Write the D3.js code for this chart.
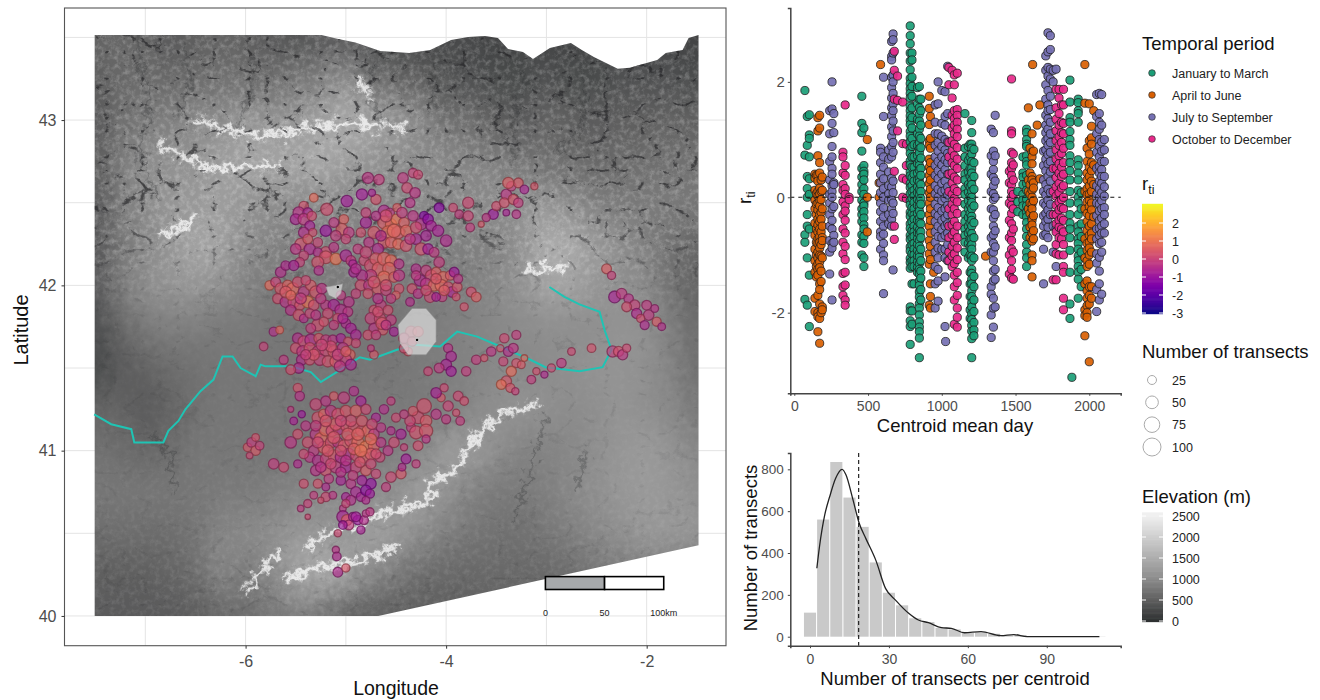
<!DOCTYPE html>
<html lang="en">
<head>
<meta charset="UTF-8">
<title>Transect centroids, residuals and elevation</title>
<style>
  html, body { margin: 0; background: #fff; }
  svg { display: block; font-family: "Liberation Sans", Arial, sans-serif; }
  .tick text { fill: #4d4d4d; }
  .legend-title { font-size: 18.5px; fill: #111; }
  .legend-label { font-size: 12.5px; fill: #222; }
  .axis-title { fill: #111; }
</style>
</head>
<body>
<script src="https://d3js.org/d3.v7.min.js"></script>
<script>
// ---- map data ----
const gridLons = d3.range(-7.5, -1.49, 0.25);
const gridLats = [43.5, 43.25, 43, 42.75, 42.5, 42.25, 42, 41.75, 41.5, 41.25, 41, 40.75, 40.5, 40.25, 40];
const elevation = [
  [550,600,550,450,500,550,500,450,400,450,450,350,300,250,250,250,200,200,200,200,200,200,200,200,200],
  [500,600,650,600,650,700,700,650,750,850,1000,700,600,500,400,350,300,300,350,300,300,350,350,350,300],
  [450,650,800,850,950,1000,1150,1100,1150,1300,1400,1300,1100,950,700,650,500,450,550,500,450,500,500,550,500],
  [500,800,1000,1050,1100,1250,1350,1350,1350,1400,1250,1100,1050,950,950,900,850,750,700,650,600,650,650,700,700],
  [450,800,1000,1150,1200,1250,1150,1050,1000,1000,950,950,950,950,950,950,1000,1050,1100,1000,850,800,800,800,750],
  [450,750,950,1150,1350,1300,1000,900,850,850,850,850,850,850,850,850,900,1100,1450,1400,1200,1000,850,700,600],
  [450,800,1000,1100,1150,1050,900,800,800,800,800,800,800,800,800,850,950,1100,1350,1300,1150,1050,950,700,550],
  [350,600,800,850,850,800,800,750,750,750,750,750,750,800,850,900,950,1000,1050,1050,1050,1100,1050,850,650],
  [300,450,550,650,700,750,750,750,750,750,750,750,750,800,850,900,950,950,1000,1050,1100,1100,1050,900,700],
  [550,550,450,550,700,750,750,750,750,750,750,800,800,800,850,950,1050,1100,1050,1000,1050,1100,1050,950,800],
  [700,650,600,650,750,750,750,750,800,800,800,800,850,950,1200,1200,1050,900,900,950,1050,1150,1200,1100,950],
  [750,750,750,750,750,800,800,850,900,950,950,1000,1050,1250,1100,900,800,800,850,950,1050,1150,1200,1150,1050],
  [650,650,650,650,750,900,950,1000,1150,1150,1150,1250,1200,1000,850,750,700,700,750,850,950,1050,1150,1150,1100],
  [500,500,500,550,650,900,800,950,1300,1400,1250,950,800,650,600,600,600,600,600,650,750,800,800,800,800],
  [450,450,450,450,500,600,650,750,850,750,600,500,500,500,500,500,500,500,500,500,500,500,500,500,500]
];
const footprint = [[-7.505,43.515],[-5.244,43.515],[-5.075,43.49],[-4.905,43.47],[-4.657,43.418],[-4.368,43.406],
  [-4.159,43.424],[-3.95,43.485],[-3.781,43.503],[-3.612,43.509],[-3.483,43.497],[-3.383,43.43],[-3.234,43.412],
  [-3.134,43.37],[-2.965,43.436],[-2.756,43.467],[-2.647,43.424],[-2.527,43.382],[-2.289,43.31],[-2.169,43.316],
  [-1.895,43.364],[-1.81,43.406],[-1.642,43.424],[-1.582,43.497],[-1.483,43.515],[-1.483,40.427],[-4.677,40],[-7.505,40]];
const ridges = [
  [[-6.0,40.145],[-5.7,40.37]],
  [[-5.58,40.23],[-5.29,40.29],[-4.91,40.33],[-4.53,40.4]],
  [[-5.37,40.43],[-5.08,40.53],[-4.57,40.63],[-4.155,40.69],[-4.155,40.81],[-3.9,40.89],[-3.69,41.09],[-3.44,41.23],[-3.11,41.27]],
  [[-6.85,42.3],[-6.5,42.4]],
  [[-3.2,42.08],[-2.8,42.12]],
  [[-4.9,43.24],[-4.75,43.14]],
  [[-6.5,43.0],[-5.9,42.9],[-5.4,42.95],[-4.9,42.98],[-4.4,42.95]],
  [[-6.85,42.85],[-6.4,42.72],[-5.7,42.72]]
];
const valleys = [
  [[-7.1,43.5],[-6.95,43.1],[-7.05,42.75],[-6.85,42.5]],
  [[-6.6,43.45],[-6.55,43.2],[-6.7,43.0]],
  [[-5.9,43.45],[-5.95,43.15],[-6.1,42.95]],
  [[-4.7,43.35],[-4.78,43.15],[-4.6,42.95]],
  [[-4.1,43.35],[-4.15,43.05]],
  [[-3.2,43.3],[-3.35,43.0],[-3.3,42.75]],
  [[-2.6,43.25],[-2.65,42.95],[-2.9,42.8]],
  [[-6.9,41.1],[-6.75,40.95],[-6.7,40.75]],
  [[-3.0,41.2],[-3.2,40.8],[-3.3,40.6]],
  [[-2.6,41.0],[-2.7,40.75]]
];
const river = [[-7.51,41.22],[-7.34,41.16],[-7.14,41.13],[-7.11,41.05],[-6.95,41.05],[-6.82,41.05],[-6.77,41.12],[-6.67,41.18],
  [-6.6,41.25],[-6.45,41.36],[-6.32,41.43],[-6.23,41.57],[-6.13,41.57],[-6.05,41.5],[-5.9,41.45],[-5.85,41.52],[-5.8,41.51],
  [-5.55,41.51],[-5.35,41.475],[-5.25,41.415],[-5.08,41.48],[-4.86,41.565],[-4.76,41.55],[-4.49,41.61],[-4.31,41.64],[-4.06,41.63],
  [-3.89,41.72],[-3.69,41.69],[-3.46,41.63],[-3.16,41.55],[-3.01,41.505],[-2.67,41.48],[-2.44,41.505],[-2.35,41.61],[-2.42,41.73],
  [-2.47,41.84],[-2.67,41.885],[-2.82,41.93],[-2.97,41.99]];
const bigBuffer = [[-4.34,41.86],[-4.2,41.86],[-4.1,41.79],[-4.1,41.66],[-4.2,41.58],[-4.38,41.58],[-4.46,41.65],[-4.48,41.76]];
const smallBuffer = [[-5.2,41.99],[-5.1,42.0],[-5.03,42.01],[-5.05,41.95],[-5.1,41.92],[-5.17,41.94]];
const bufferCentres = [[-4.29,41.67],[-5.08,41.99]];

// lon, lat, number of transects, residual
const centroids = [
  [-4.78,42.65,34,-.4],[-4.67,42.64,30,-.2],[-4.43,42.65,30,-.3],[-4.33,42.68,24,-.1],[-4.28,42.67,22,.1],[-4.84,42.55,34,-1.0],[-4.70,42.52,28,.3],[-4.74,42.56,14,-.9],
  [-4.39,42.59,30,.1],[-4.31,42.56,30,-.4],[-4.62,42.45,36,-.7],[-4.56,42.44,22,-.3],[-4.49,42.47,18,.6],[-4.36,42.50,26,-.5],[-4.22,42.42,22,-1.6],[-4.07,42.47,26,-1.5],
  [-3.93,42.47,20,.1],[-3.78,42.50,34,.1],[-3.87,42.43,20,-.2],[-3.78,42.42,28,.0],[-3.53,42.43,28,-1.1],[-3.6,42.41,18,-.4],[-3.65,42.37,10,.4],[-3.76,42.35,20,-.2],
  [-5.32,42.53,20,.9],[-4.99,42.51,36,-1.0],[-5.19,42.46,40,.2],[-5.42,42.48,24,.3],[-5.47,42.44,36,-.5],[-5.38,42.44,26,-.8],[-5.5,42.40,32,-.8],[-5.42,42.40,36,-.3],
  [-5.34,42.42,24,.2],[-5.36,42.36,26,-.9],[-5.42,42.32,30,-.6],[-5.33,42.32,18,.2],[-5.2,42.33,34,-1.2],[-5.02,42.40,24,.7],[-5.04,42.34,36,.6],[-5.12,42.38,26,-.3],
  [-4.97,42.32,30,-.3],[-5.0,42.28,24,.0],[-5.45,42.25,36,.3],[-5.5,42.22,30,-.4],[-5.36,42.22,34,-.7],[-5.42,42.18,24,.0],[-5.46,42.14,24,-.1],[-5.2,42.2,34,.2],
  [-5.28,42.2,22,-.6],[-5.2,42.17,44,.4],[-5.1,42.16,36,1.1],[-5.12,42.23,26,-.4],[-5.28,42.14,38,.3],[-5.27,42.09,24,-.6],[-5.0,42.18,36,-.8],[-4.95,42.15,26,-.2],
  [-4.8,42.38,34,-.9],[-4.85,42.32,24,.2],[-4.72,42.32,40,.4],[-4.62,42.38,44,.5],[-4.55,42.37,34,.9],[-4.5,42.40,28,1.1],[-4.58,42.32,46,1.0],[-4.48,42.32,44,.4],
  [-4.42,42.38,30,.6],[-4.4,42.33,36,.8],[-4.33,42.42,30,-.4],[-4.25,42.37,36,-.6],[-4.18,42.4,30,-1.4],[-4.15,42.36,30,-.9],[-4.08,42.33,34,-.9],[-4.0,42.27,36,-.7],
  [-4.62,42.26,36,.5],[-4.55,42.26,34,.6],[-4.48,42.25,30,.9],[-4.4,42.24,36,.3],[-4.3,42.28,32,-.8],[-4.25,42.22,40,.3],[-4.18,42.22,30,-1.0],[-4.12,42.2,26,-.3],
  [-4.68,42.22,34,-.7],[-4.77,42.26,28,-.4],[-4.88,42.22,26,-.2],[-4.82,42.15,26,.1],[-4.75,42.12,44,.2],[-4.7,42.16,40,.5],[-4.67,42.1,50,.6],[-4.62,42.16,46,.7],
  [-4.55,42.15,36,.9],[-4.57,42.1,44,.7],[-4.62,42.05,40,.9],[-4.52,42.05,30,.6],[-4.75,42.06,36,-.2],[-4.84,42.06,34,-.6],[-4.92,42.08,28,-.9],[-4.93,42.13,18,-.9],
  [-4.85,42.0,34,.2],[-4.77,42.0,30,-.4],[-4.68,41.98,34,.5],[-4.6,41.97,30,-.1],[-4.78,41.95,26,.3],[-4.9,41.95,24,-.1],[-4.97,41.9,30,-.5],[-5.05,41.94,24,-.3],
  [-4.47,42.13,26,-.5],[-4.47,42.06,34,-.4],[-4.47,41.98,24,.3],[-4.5,41.94,18,.6],[-4.07,42.14,30,-.2],
  [-4.3,42.1,26,-.6],[-4.2,42.09,30,-.2],[-4.15,42.06,34,.2],[-4.1,42.08,26,.6],[-4.03,42.05,34,.8],[-3.96,42.06,24,.5],[-3.92,42.08,26,-1.1],[-4.26,42.03,36,-.7],
  [-4.2,42.01,34,-.4],[-4.12,42.0,36,.9],[-4.05,42.0,40,.8],[-3.98,41.99,28,.3],[-4.34,41.98,26,.2],[-4.28,41.95,24,-.5],[-4.16,41.93,34,.1],[-4.04,41.93,24,-.2],
  [-3.94,41.96,30,-.8],[-3.89,41.99,26,.4],[-3.9,41.93,16,.3],[-3.75,41.96,26,.2],[-3.7,41.93,26,.6],[-3.82,41.87,18,.3],[-4.36,41.9,20,-.6],[-4.1,41.93,20,-.9],
  [-5.76,42.0,24,.9],[-5.7,42.02,26,-.1],[-5.65,41.98,36,.4],[-5.58,42.0,30,.7],[-5.53,41.98,40,.8],[-5.48,42.02,30,.2],[-5.42,41.96,32,-.3],[-5.35,42.0,30,.5],
  [-5.3,41.96,40,.4],[-5.24,41.98,30,-.4],[-5.65,42.08,30,-.6],[-5.6,42.12,24,-.7],[-5.52,42.12,28,-.9],[-5.68,41.92,28,.2],[-5.6,41.9,34,-.5],[-5.52,41.9,36,.1],
  [-5.46,41.88,28,.3],[-5.38,41.9,38,1.1],[-5.32,41.88,30,.2],[-5.55,41.85,30,-.5],[-5.47,41.82,34,.3],[-5.42,41.8,20,-.6],[-5.36,41.83,24,.0],[-5.2,41.88,28,-.4],
  [-5.12,41.88,36,-.9],[-5.05,41.85,38,-.6],[-4.98,41.84,26,-.4],[-5.18,41.83,30,.1],[-5.08,41.8,28,.2],[-5.0,41.77,24,-.7],[-5.28,41.76,40,.2],[-5.35,41.74,26,-.2],
  [-5.72,41.72,22,-.6],[-5.66,41.73,16,.8],[-5.03,41.8,28,-.8],[-4.95,41.74,30,-.9],[-4.9,41.7,30,-.8],
  [-4.72,41.85,26,.2],[-4.65,41.88,30,-.2],[-4.75,41.8,36,-.1],[-4.66,41.8,34,.1],[-4.58,41.85,26,.2],[-4.55,41.79,30,-.2],[-4.72,41.74,28,-.4],[-4.63,41.73,26,.4],
  [-4.52,41.72,22,-.9],[-4.78,41.7,26,.2],[-4.64,41.77,40,.4],[-4.35,41.72,34,.3],[-4.42,41.68,30,.1],[-4.34,41.66,24,.2],[-4.38,41.6,20,.4],[-4.42,41.62,24,.2],[-4.28,41.72,30,.4],
  [-5.48,41.68,30,-.6],[-5.42,41.66,36,.1],[-5.35,41.67,38,-.6],[-5.27,41.68,26,.4],[-5.2,41.67,28,-.2],[-5.13,41.67,26,-.4],[-5.05,41.68,24,-.9],[-4.98,41.66,20,.3],
  [-4.9,41.65,22,.1],[-5.5,41.62,30,.2],[-5.43,41.6,38,-.3],[-5.36,41.62,34,.3],[-5.28,41.6,34,-.2],[-5.2,41.61,40,.1],[-5.12,41.6,38,.4],[-5.03,41.62,34,-.4],[-4.96,41.58,30,.7],
  [-5.44,41.55,30,-.6],[-5.36,41.55,30,.2],[-5.26,41.55,36,-.1],[-5.18,41.54,34,.3],[-5.1,41.54,38,.5],[-5.0,41.55,36,-.1],[-4.95,41.52,32,-.8],[-5.06,41.51,34,-.4],
  [-5.82,41.63,20,-.1],[-5.62,41.55,22,-.3],[-5.47,41.5,30,-.7],[-5.55,41.49,26,.2],[-4.72,41.58,20,.4],[-4.75,41.62,12,-.2],
  [-3.98,41.62,22,-.5],[-3.95,41.57,30,-.8],[-4.0,41.52,32,-.9],[-3.95,41.48,28,-1.0],[-4.07,41.5,26,-.3],[-4.18,41.48,20,.0],[-3.8,41.48,24,-.2],[-3.7,41.55,24,-.2],
  [-3.62,41.56,14,.3],[-3.55,41.6,24,-.4],[-3.46,41.62,14,.3],[-3.43,41.54,22,.0],[-3.38,41.6,26,-.6],[-3.33,41.62,26,-.4],[-3.42,41.68,24,.1],[-3.3,41.7,22,-.2],
  [-3.3,41.53,22,.3],[-3.35,41.48,28,.9],[-3.25,41.52,16,.5],[-3.22,41.56,12,.8],[-3.15,41.43,20,-.2],[-3.1,41.48,14,.2],[-3.02,41.46,14,-.7],[-2.95,41.5,18,.1],
  [-3.4,41.42,30,.4],[-3.45,41.4,26,1.0],[-3.36,41.38,22,.4],[-3.31,41.36,14,-.1],[-2.85,41.53,24,-.3],[-2.75,41.6,16,.1],[-2.55,41.62,20,.3],
  [-3.5,42.48,22,.2],[-3.4,42.55,30,-.4],[-3.42,42.5,26,.3],[-3.33,42.52,28,.4],[-3.28,42.5,24,-.2],[-3.35,42.6,24,-.2],[-3.28,42.62,26,.5],[-3.38,42.62,34,.6],
  [-3.22,42.58,20,-.8],[-3.12,42.6,14,.4],[-3.3,42.43,20,-.5],[-3.4,42.44,12,-.9],
  [-2.4,42.1,26,.6],[-2.35,42.06,18,-.1],[-2.32,41.93,38,-.9],[-2.25,41.95,30,-.3],[-2.18,41.92,24,-.5],[-2.12,41.88,30,-.1],[-2.2,41.87,26,.2],[-2.1,41.83,28,-.7],
  [-2.0,41.88,26,-.3],[-1.98,41.82,30,-.3],[-2.06,41.8,18,.2],[-1.92,41.86,16,-.5],[-2.02,41.76,22,-.7],[-1.9,41.78,22,.5],[-1.85,41.75,16,-.6],[-2.34,41.6,34,-.2],
  [-2.28,41.6,28,.3],[-2.24,41.58,28,-.4],[-2.2,41.62,18,.1],
  // south block
  [-5.98,41.02,20,.4],[-5.94,41.05,24,-.2],[-5.9,41.0,24,.5],[-5.86,41.03,20,-.1],[-5.9,41.08,16,.3],[-5.96,40.97,12,.1],[-5.72,40.92,30,-.2],[-5.62,40.9,26,.1],
  [-5.55,41.05,36,-.4],[-5.48,41.1,26,.2],[-5.4,41.15,26,-.4],[-5.52,41.18,16,-.9],[-5.44,41.22,14,-1.1],[-5.55,41.25,10,-.3],[-5.48,41.38,22,.3],[-5.46,41.33,24,-.5],
  [-5.3,41.28,36,.0],[-5.2,41.3,28,-.4],[-5.12,41.33,20,.5],[-5.02,41.32,36,-.2],[-4.92,41.36,24,-.6],[-4.85,41.3,28,-.9],[-5.28,41.2,36,.3],[-5.22,41.22,30,.7],
  [-5.15,41.24,34,-.3],[-5.08,41.22,38,.3],[-5.0,41.24,34,.4],[-4.9,41.24,36,.6],[-4.8,41.25,28,.1],[-4.7,41.2,22,-.8],[-4.62,41.25,24,-.6],[-4.55,41.3,18,-.2],
  [-5.38,41.05,32,.2],[-5.3,41.1,34,-.4],[-5.25,41.07,44,.9],[-5.2,41.13,50,.8],[-5.14,41.12,36,.1],[-5.07,41.13,34,-.5],[-5.0,41.15,32,.5],[-4.92,41.14,36,.4],
  [-4.85,41.12,30,.3],[-4.78,41.12,38,.8],[-4.72,41.1,30,-.3],[-4.65,41.14,24,-.4],[-5.32,41.0,30,-.3],[-5.22,41.02,38,.6],[-5.15,41.05,34,.2],[-5.08,41.05,30,-.4],
  [-5.02,41.03,36,.6],[-4.95,41.06,40,.3],[-4.88,41.05,40,.9],[-4.8,41.02,44,1.2],[-4.72,41.03,34,.7],[-4.65,41.05,26,-.4],[-5.36,40.96,28,-.4],[-5.28,40.94,32,-.6],
  [-5.2,40.95,32,-.1],[-5.12,40.97,36,.4],[-5.05,40.96,34,-.7],[-4.97,40.98,34,-.6],[-4.9,40.97,30,.2],[-4.82,40.96,36,.7],[-4.75,40.98,38,.5],[-4.66,40.96,26,.0],
  [-4.58,41.0,26,-.4],[-4.52,41.05,30,.1],[-4.45,41.1,28,-.9],[-4.35,41.14,22,-.3],[-4.28,41.2,40,.2],[-4.22,41.27,58,.3],[-4.2,41.18,36,.5],[-4.33,41.24,24,.4],
  [-4.36,41.18,30,.1],[-4.3,41.11,46,.3],[-4.2,41.12,48,.4],[-4.42,41.02,14,-.1],[-4.28,41.03,26,.2],[-4.2,41.07,18,-.4],[-4.4,40.95,26,-1.0],[-4.3,40.92,18,-.2],
  [-4.1,41.22,28,-.4],[-4.0,41.19,22,-.3],[-3.98,41.27,28,.0],[-4.05,41.32,18,.4],[-4.1,41.35,30,-.9],[-4.02,41.38,18,.1],[-3.88,41.33,26,.1],[-3.82,41.3,20,.2],
  [-3.86,41.18,20,-.2],[-3.9,41.23,14,.2],[-4.45,40.86,28,.4],[-4.44,40.9,16,-.7],[-5.3,40.88,30,-.5],[-5.2,40.88,32,.3],[-5.1,40.9,36,-.2],[-5.0,40.9,34,-.9],
  [-4.9,40.9,34,-.1],[-4.8,40.88,30,.5],[-4.7,40.86,24,.0],[-4.55,40.84,30,.1],[-4.6,40.78,22,-.2],[-4.75,40.8,30,-1.3],[-4.84,40.82,26,-1.0],[-4.95,40.8,26,-.5],
  [-5.05,40.82,24,-.9],[-5.17,40.83,24,-.3],[-5.28,40.8,22,.3],[-5.42,40.8,22,.2],[-5.2,40.78,16,-.7],[-5.0,40.72,20,-.9],[-4.9,40.75,30,-.8],[-4.95,40.7,26,-.6],
  [-4.85,40.72,22,-.9],[-4.8,40.76,30,-1.4],[-4.76,40.74,22,-1.1],[-4.8,40.7,16,-.7],[-5.2,40.72,24,.1],[-5.13,40.73,16,-.4],[-5.32,40.73,16,-.2],[-5.25,40.7,10,.2],
  [-5.38,40.68,18,-.1],[-5.45,40.65,12,-.3],[-5.38,40.6,8,.1],[-5.03,40.65,12,-.4],[-5.0,40.68,18,.0],
  // sierra outliers
  [-5.03,40.6,40,-.9],[-4.99,40.58,32,.6],[-4.97,40.55,26,-.3],[-5.03,40.55,20,-1.1],[-4.93,40.6,20,-.9],[-4.88,40.58,24,-1.2],[-4.82,40.58,22,-.6],[-4.8,40.62,14,-.5],
  [-4.76,40.63,18,-.4],[-4.85,40.52,18,-.9],[-5.08,40.5,14,.1],[-4.9,40.6,26,-1.0],
  [-5.1,40.4,14,-.5],[-5.09,40.36,20,-.7],[-5.08,40.265,26,-.7],[-5.0,40.29,18,.4],
  // second pass over the dense parts
  [-4.6,42.42,40,.3],[-4.52,42.33,50,.8],[-4.44,42.44,30,-.2],[-4.3,42.35,34,.2],[-4.65,42.3,30,-.6],[-4.2,42.3,30,-.9],[-4.36,42.28,30,-.3],[-4.8,42.44,26,-.1],
  [-4.7,42.42,24,-.5],[-5.1,42.3,30,-.2],[-5.28,42.26,24,.0],[-5.38,42.28,26,.5],[-4.9,42.1,30,-.6],[-4.8,42.2,36,.0],[-4.72,42.02,38,.4],[-4.6,42.0,34,.2],
  [-4.55,41.92,24,-.2],[-4.68,41.92,28,-.5],[-5.6,41.96,36,.5],[-5.45,41.92,34,-.2],[-5.4,42.03,24,.1],[-5.55,41.94,26,.8],[-5.25,41.92,28,-.3],[-5.12,41.76,24,-.2],
  [-5.22,41.78,24,.3],[-5.3,41.82,26,-.4],[-5.15,41.63,34,.2],[-5.24,41.64,36,.0],[-5.32,41.58,34,.4],[-5.4,41.58,28,-.1],[-5.08,41.58,34,-.2],[-5.0,41.6,28,.6],
  [-4.68,41.84,30,.2],[-4.6,41.76,26,-.4],[-4.7,41.7,24,-.1],[-4.1,42.04,30,.4],[-4.2,41.97,30,.2],[-4.3,42.06,24,-.3],[-4.02,41.97,30,.6],[-3.88,42.04,22,-.4],
  [-5.1,41.16,40,.6],[-5.2,41.18,36,.3],[-5.3,41.15,30,-.2],[-4.98,41.1,40,.5],[-4.88,41.1,42,.7],[-4.95,41.18,36,.2],[-5.05,41.18,34,.0],[-4.84,41.18,34,.4],
  [-4.74,41.16,30,.1],[-5.12,41.08,40,.5],[-5.18,41.0,36,.4],[-5.28,41.05,34,.0],[-5.05,41.0,34,.2],[-4.92,41.01,36,.6],[-4.85,41.0,40,1.0],[-4.75,41.07,36,.9],
  [-4.7,40.98,28,.2],[-5.15,40.92,30,.1],[-5.0,40.94,30,-.4],[-4.86,40.93,30,.3],[-5.25,40.9,30,-.5],[-4.75,40.92,28,.1],[-4.93,40.85,26,-.2],[-5.05,40.87,28,-.5],
  [-5.42,40.98,24,.1],[-5.48,40.92,18,-.7],[-4.5,41.2,22,.1],[-4.42,41.22,20,-.2],[-4.55,41.12,18,-.6]
];

// ---- scatter data: [centroid mean day, residuals] ----
const janMar = [
  [72,[1.85,.73,-.65,-.78,-1.77]],
  [88,[1.4,.9,.36,.15,0,-.3,-.5,-1.05,-1.87]],
  [102,[1.43,1.08,1.02,.7,.32,.05,-.55,-1.35,-2.24]],
  [458,[1.75,1.28,1.12,.8,.5,.35,.22,.1,-.05,-.2,-.3,-.42,-.65,-.78,-1.0]],
  [472,[1.2,.55,.45,.4,.3,.15,.05,-.1,-.15,-.25,-.36,-.48,-.55,-.68,-.8,-1.05,-1.2]],
  [786,[2.97,2.8,2.66,2.5,2.36,2.21,2.06,1.97,1.88,1.8,1.72,1.58,1.5,1.41,1.33,1.26,1.14,1.06,.96,.84,.76,.63,.56,.44,.37,.24,.17,.06,-.06,-.13,-.26,-.33,-.46,-.54,-.66,-.73,-.86,-.93,-1.06,-1.13,-1.23,-1.9,-1.97,-2.14,-2.24,-2.55]],
  [798,[2.5,2.38,2.08,1.92,1.75,1.55,1.38,1.2,1.02,.88,.7,.52,.34,.2,.1,-.02,-.18,-.28,-.42,-.58,-.7,-.82,-.98,-1.1,-1.2,-1.5,-1.97,-2.2]],
  [812,[.91,.7,.52,.4,.28,.12,.02,-.09,-.2,-.31,-.38,-.5,-.6,-.68,-.8,-.9,-1.0,-1.1,-1.2,-1.5]],
  [835,[1.9,1.62,1.35,1.1,.9,.72,.58,.42,.3,.18,.08,-.04,-.14,-.28,-.4,-.52,-.62,-.72,-.82,-.92,-1.02,-1.12,-1.22,-1.3]],
  [848,[1.92,1.7,1.55,1.44,1.32,1.18,1.06,.94,.84,.77,.64,.55,.47,.33,.26,.13,.04,-.07,-.16,-.24,-.36,-.44,-.57,-.64,-.75,-.85,-.97,-1.04,-1.15,-1.25,-1.33,-1.45,-1.53,-1.64,-1.73,-1.84,-1.92,-2.04,-2.16,-2.25,-2.33,-2.44,-2.78]],
  [858,[1.7,1.5,1.25,1.02,.86,.68,.5,.38,.22,.1,-.02,-.12,-.3,-.46,-.6,-.7,-.9,-1.1,-1.28,-1.4,-1.6,-1.78]],
  [1157,[1.45,.85,.7,.55,.4,.3,.15,.05,-.12,-.3,-.42,-.55,-.66,-.78,-.95]],
  [1180,[.88,.64,.44,.22,.09,-.06,-.2,-.35,-.5,-.62,-.8,-1.05]],
  [1192,[.92,.7,.5,.36,.18,.02,-.14,-.28,-.44,-.58,-.72,-.86,-1.0,-1.3,-1.5,-1.72,-1.95,-2.1]],
  [1203,[1.33,1.12,.92,.85,.75,.62,.5,.42,.3,.22,.1,0,-.09,-.2,-.33,-.4,-.5,-.63,-.72,-.82,-.9,-1.02,-1.1,-1.25,-1.32,-1.42,-1.5,-1.62,-1.72,-1.83,-1.9,-2.02,-2.12,-2.22,-2.32,-2.45,-2.78]],
  [1218,[.83,.6,.36,.14,-.15,-.44,-.7,-1.05,-1.37,-1.55,-1.78,-1.98,-2.17,-2.3,-2.4]],
  [1515,[.1,-.08,-.25]],
  [1550,[.7,.42,.35,.22,.05,-.05,-.15,-.3]],
  [1575,[1.18,1.12,1.0,.92,.88,.72,.62,.56,.38,.24,.12,-.03,-.15,-.26,-.34,-.44,-.55,-.68,-.82,-.95,-1.05,-1.2]],
  [1869,[2.03,1.65,1.38,1.3,1.14,1.0,.9,.72,.6,.46,.3,.1,-.1,-.3,-.45,-.55,-.7,-.92,-1.3,-1.85,-2.1]],
  [1882,[-3.12]],
  [1925,[1.7,1.64,1.5,1.45,1.3,.65,.55,.42,.3,.12,0,-.1,-.3,-.5,-.6,-.72,-.8,-.9,-1.02,-1.1,-1.2,-1.3,-1.42,-1.75]],
  [1945,[.08,-.2,-.46,-.68,-.95,-1.25,-1.55]]
];
const aprJun = [
  [140,[.4,.33,.12,-.05,-.2,-.45,-.66,-.9,-1.1,-1.3,-1.75,-1.98]],
  [150,[.38,.06,-.12,-.3,-.55,-.78,-1.0,-1.2,-1.38]],
  [160,[1.38,1.15,.72,.38,.28,.1,.02,-.1,-.22,-.38,-.48,-.6,-.72,-.8,-.95,-1.05,-1.16,-1.25,-1.35,-1.7,-2.0,-2.07,-2.33]],
  [172,[1.42,1.2,.6,.42,.16,.06,-.05,-.15,-.3,-.42,-.55,-.68,-.78,-.88,-1.0,-1.12,-1.22,-1.5,-1.6,-1.85,-2.1,-2.53]],
  [182,[.3,.1,-.04,-.26,-.38,-.6,-.82,-1.02,-1.28,-1.46,-2.0]],
  [190,[.35,.12,-.2,-.5,-.7,-.75,-1.05,-1.9,-1.95]],
  [495,[1.0,-.6,.0]],[575,[.25,.0]],[585,[2.3]],
  [915,[1.75,1.54,1.26,.98,.9,.66,.52,.38,.24,.08,-.1,-.3,-.5,-.75,-.98,-1.16,-1.87]],
  [923,[1.4,1.02,.85,.6,.46,.3,.14,.0,-.2,-.4,-.62,-.85,-1.08,-1.5,-1.72,-1.92]],
  [945,[-1.3]],[1297,[-1.02]],
  [1587,[1.55,.3,.1,-.2]],[1616,[2.3]],
  [1598,[.85,.42,.22,.05,-.1,-.28,-.52,-.7]],
  [1612,[1.1,.78,.7,.58,.36,.3,.12,0,-.12,-.2,-.36,-.4,-.48,-.62,-.76,-1.0,-1.1,-1.38]],
  [1622,[.8,.25,.16,-.06,-.32,-.58,-.72]],
  [1665,[1.6,.32]],[1647,[1.25]],
  [1970,[2.3,1.63,.1,-.2,-.72,-1.05,-1.5,-1.95,-2.05,-2.4]],
  [1985,[.85,.62,.42,.3,.15,.04,-.08,-.28,-.42,-.58,-.8,-.92,-1.1,-1.2,-1.45,-1.62,-1.75,-1.88,-2.0,-2.08]],
  [2000,[1.62,.98,.75,.52,.36,.2,.05,-.05,-.16,-.32,-.5,-.66,-.78,-.88,-1.0,-1.16,-1.55,-1.7,-1.85,-2.85]],
  [2015,[1.23,1.03,.92,.6,.46,.28,.1,-.1,-.22,-.46,-.62,-.72,-.95,-1.55,-1.75]],
  [2030,[1.5,.56,.22,-.34]]
];
const julSep = [
  [240,[1.5,1.1,.62,.3,.05,-.1,-.3,-.5,-.75,-.95,-1.33]],
  [256,[2.0,1.53,1.28,.88,.7,.5,.4,.2,.1,0,-.2,-.4,-.55,-.8,-.88,-1.78]],
  [268,[1.45,1.12,.25,.22,-.16,-.66,-.78]],
  [585,[.85,.78,.6,.4,.25,.08,-.1,-.25,-.42,-.6,-.68,-.9]],
  [605,[1.4,2.08,.7,.52,.32,.15,0,-.18,-.34,-.5,-.64,-.8,-1.0,-1.1,-1.67]],
  [640,[.82,.66,.44,.2,.06,-.05,-.3,-.46]],
  [660,[2.7,2.44,2.38,2.08,1.9,1.72,1.55,1.42,1.22,1.05,.88,.7,.33,.18,-.04,-.2,-.38,-.5]],
  [670,[2.83,2.73,2.5,2.12,2.0,1.8,1.62,1.5,1.32,1.15,.95,.78,.28,.08,-.1,-.28,-1.26]],
  [955,[1.6,1.3,1.1,.9,.7,.55,.38,.2,.06,-.12,-.28,-.42,-.6,-.78,-.95,-1.2,-1.5,-1.92]],
  [975,[2.0,1.62,1.1,.95,.8,.62,.46,.32,.14,0,-.18,-.32,-.5,-.68,-.88,-1.05,-1.25,-1.45,-1.8]],
  [1000,[1.85,1.28,1.06,.88,.7,.56,.4,.24,.1,-.06,-.24,-.4,-.56,-.7,-.9]],
  [1022,[1.83,1.4,1.25,1.0,.82,.65,.48,.28,.12,-.02,-.2,-.36,-.5,-.66,-.9,-1.05,-1.38,-2.24]],
  [1026,[-2.5]],
  [1040,[2.27,1.45,.96,.76,.6,.4,.18,.04,-.14,-.3,-.46,-.62,-.82,-1.1]],
  [1335,[1.18,.72,.4,.1,-.2,-.7,-.95,-1.55,-1.68,-2.04,-2.43]],
  [1350,[1.12,.8,.62,.48,.34,.2,.06,-.04,-.22,-.36,-.5,-.65,-.8,-.95,-1.1,-1.28,-1.45,-1.75,-1.92,-2.25]],
  [1362,[1.42,.72,.28,0,-.3,-.58,-.86,-1.25,-1.42,-1.9]],
  [1690,[.8,.55,.3,.1,-.1,-.32,-.5,-.66,-.9,-1.5]],
  [1705,[2.45,2.2,1.95,1.7,1.42,1.25,1.12,.98,.82,.66,.46,.22,.04,-.14,-.28,-.42,-.64]],
  [1720,[2.85,2.52,2.25,2.1,1.85,1.6,1.5,1.36,1.18,1.02,.9,.74,.58,.36,.14,-.05,-.22,-.38,-.52,-.7]],
  [1736,[2.8,2.56,2.22,2.05,1.75,1.52,1.3,1.1,.95,.78,.62,.44,.28,.08,-.12,-.3]],
  [1755,[2.2,2.0,-.5,-.95]],
  [1775,[2.22,-.55,-1.2]],
  [2050,[1.78,1.4,1.1,.78,.5,.2,.05,-.1,-.32,-.55,-.72,-.98,-1.14,-1.6,-1.98]],
  [2068,[1.8,1.45,1.3,1.18,1.0,.88,.7,.54,.42,.28,.14,0,-.12,-.24,-.4,-.54,-.66,-.8,-1.04,-1.28,-1.5,-1.78]],
  [2084,[1.78,1.25,.96,.8,.62,.48,.36,.24,.08,-.06,-.2,-.36,-.5,-.62,-.78,-.95,-1.68]],
  [2102,[1.0,.82,.62,.36,.18,.02,-.18,-.3,-.46,-.62]]
];
const octDec = [
  [330,[.78,.7,.42,.22,.12,-.08,-.3,-.55,-.78,-.98,-1.32,-1.55,-1.7]],
  [345,[1.6,.55,.38,.15,.05,-.15,-.24,-.4,-.62,-.85,-1.08,-1.3,-1.52,-1.78,-1.87]],
  [372,[0,-.04]],
  [678,[2.53,2.2,1.7,.45,-.5,-.73]],
  [700,[2.1,1.68,1.15]],
  [735,[1.65,.93,.0,.33]],
  [760,[.92,.55,.3,-.02]],
  [1048,[2.25,1.95,.95,.7,.4,.1,-.2,-.5,-.7,-.95,-1.1]],
  [1070,[2.2,1.72,1.42,1.2,.98,.8,.6,.42,.25,.05,-.12,-.3,-.48,-.65,-.85,-1.02,-1.2]],
  [1085,[2.12,1.95,1.5,1.36,1.25,1.1,.92,.72,.55,.35,.15,-.02,-.2,-.42,-.6,-.78,-.98,-1.15,-1.35,-1.55,-1.78,-2.2]],
  [1105,[2.15,1.52,1.42,1.3,1.18,1.05,.86,.66,.5,.3,.1,-.08,-.28,-.5,-.7,-.88,-1.08,-1.3,-1.48,-1.7,-1.92,-2.08,-2.25]],
  [1458,[.45,.25,-.1,-.4,-.7,-1.0,-1.33]],
  [1473,[2.05,1.15,1.1,.78,.6,.5,.38,.22,.1,0,-.14,-.28,-.46,-.62,-.75,-.9,-1.1,-1.25,-1.4]],
  [1485,[.75,.56,.3,.05,-.2,-.55,-.95,-1.42]],
  [1755,[.5,.1,-.3,-1.43]],
  [1775,[1.87,1.55,1.35,1.15,.98,.82,.66,.5,.34,.18,.02,-.14,-.3,-.46,-.6,-.82,-.98,-1.43]],
  [1795,[1.87,1.72,1.45,1.25,1.05,.9,.72,.58,.42,.24,.08,-.08,-.22,-.4,-.52,-.7,-1.0]],
  [1812,[1.6,1.3,1.12,.95,.76,.52,.36,.16,-.04,-.18,-.36,-.55,-.72]],
  [1825,[1.87,1.6,1.28,1.1,.85,.6,.4,.2,.0,-.2,-.4,-.6,-.82,-1.0,-1.2,-1.3,-1.75,-1.95]]
];

// ---- histogram data ----
const binCentres = d3.range(0, 111, 5);
const binCounts = [115,560,835,665,525,355,210,150,88,70,42,35,18,20,14,5,8,3,2,1,1,1,1];
const densityX = [2.6,3.6,5.6,7.5,9.75,12.2,13.7,16.2,18.7,21.2,25,28.7,32.5,37.5,41.2,45,50,53.7,58.7,65,72.5,77.5,82.5,110];
const densityY = [327,430,582,670,757,800,773,661,542,470,366,231,175,112,80,67,43,40,19,24,5,10,0,0];
const meanTransects = 18.5;

// ---- legends ----
const periodLabels = ["January to March", "April to June", "July to September", "October to December"];
const periodColours = ["#1b9e77", "#d95f02", "#7570b3", "#e7298a"];
const rTicks = [2, 1, 0, -1, -2, -3];
const sizeTicks = [25, 50, 75, 100];
const elevTicks = [2500, 2000, 1500, 1000, 500, 0];

// ---- page ----
const svg = d3.select("body").append("svg").attr("width", 1320).attr("height", 700);
const defs = svg.append("defs");

const lonX = d3.scaleLinear().domain([-7.806, -1.209]).range([64.5, 726]);
const latY = d3.scaleLinear().domain([39.82, 43.678]).range([645.7, 8]);
const elevGrey = d3.scaleLinear().domain([0, 500, 1000, 2500]).range(["#2e3132", "#5f5f5f", "#8c8c8c", "#f0f0f0"]).clamp(true);
const rColour = d3.scaleSequential(d3.interpolatePlasma).domain([-3, 3.05]);
const mapColour = d3.scaleSequential(d3.interpolatePlasma).domain([-3.6, 3.6]);
const sizeR = d3.scaleSqrt().domain([0, 100]).range([0, 9]);
const mapR = d3.scaleSqrt().domain([0, 100]).range([0, 9.6]);
const geoLine = d3.line().x(d => lonX(d[0])).y(d => latY(d[1]));
const plain = d => String(d);

// panel grid
const map = svg.append("g");
const panel = { x: lonX.range()[0], y: latY.range()[1], w: lonX.range()[1] - lonX.range()[0], h: latY.range()[0] - latY.range()[1] };
map.append("rect").attr("x", panel.x).attr("y", panel.y).attr("width", panel.w).attr("height", panel.h).attr("fill", "#fff");
map.selectAll(".vgrid").data(d3.range(-7, -1, 1)).enter().append("line")
  .attr("x1", d => lonX(d)).attr("x2", d => lonX(d)).attr("y1", panel.y).attr("y2", panel.y + panel.h)
  .attr("stroke", "#e4e4e4");
map.selectAll(".hgrid").data(d3.range(40, 43.6, 0.5)).enter().append("line")
  .attr("y1", d => latY(d)).attr("y2", d => latY(d)).attr("x1", panel.x).attr("x2", panel.x + panel.w)
  .attr("stroke", "#e4e4e4");

// elevation raster: coarse grid painted on a canvas and smoothed
const small = document.createElement("canvas");
small.width = gridLons.length; small.height = gridLats.length;
const sctx = small.getContext("2d");
elevation.forEach((row, j) => row.forEach((v, i) => {
  sctx.fillStyle = elevGrey(v);
  sctx.fillRect(i, j, 1, 1);
}));
const gx0 = lonX(-7.625), gx1 = lonX(-1.375), gy0 = latY(43.625), gy1 = latY(39.875);
const big = document.createElement("canvas");
big.width = Math.round(gx1 - gx0); big.height = Math.round(gy1 - gy0);
const bctx = big.getContext("2d");
bctx.imageSmoothingEnabled = true;
bctx.imageSmoothingQuality = "high";
bctx.drawImage(small, 0, 0, big.width, big.height);

defs.append("clipPath").attr("id", "foot").append("path").attr("d", geoLine(footprint) + "Z");

function noiseFilter(id) {
  return defs.append("filter").attr("id", id).attr("filterUnits", "userSpaceOnUse")
    .attr("x", 0).attr("y", 0).attr("width", 800).attr("height", 700).attr("color-interpolation-filters", "sRGB");
}
const warp = noiseFilter("warp");
warp.append("feGaussianBlur").attr("in", "SourceGraphic").attr("stdDeviation", 1.4).attr("result", "b");
warp.append("feTurbulence").attr("type", "fractalNoise").attr("baseFrequency", 0.12).attr("numOctaves", 4).attr("seed", 4).attr("result", "n");
warp.append("feDisplacementMap").attr("in", "b").attr("in2", "n").attr("scale", 24)
  .attr("xChannelSelector", "R").attr("yChannelSelector", "G");

const veins = noiseFilter("veins");
veins.append("feTurbulence").attr("type", "turbulence").attr("baseFrequency", "0.028 0.038").attr("numOctaves", 6).attr("seed", 11);
veins.append("feColorMatrix").attr("type", "matrix")
  .attr("values", "0 0 0 0 0.14  0 0 0 0 0.14  0 0 0 0 0.15  0 0 0 -12 1.95");
veins.append("feGaussianBlur").attr("stdDeviation", 0.5);

const speck = noiseFilter("speck");
speck.append("feTurbulence").attr("type", "fractalNoise").attr("baseFrequency", 0.2).attr("numOctaves", 4).attr("seed", 7);
speck.append("feColorMatrix").attr("type", "matrix")
  .attr("values", "0 0 0 0 1  0 0 0 0 1  0 0 0 0 1  0 0 0 2.4 -1.0");
speck.append("feGaussianBlur").attr("stdDeviation", 0.5);

function fadeMask(id, stops) {
  const g = defs.append("linearGradient").attr("id", id + "G").attr("x1", 0).attr("x2", 0).attr("y1", 0).attr("y2", 1);
  stops.forEach(s => g.append("stop").attr("offset", s[0]).attr("stop-color", "#fff").attr("stop-opacity", s[1]));
  defs.append("mask").attr("id", id).attr("maskUnits", "userSpaceOnUse")
    .attr("x", 0).attr("y", 0).attr("width", 800).attr("height", 700)
    .append("rect").attr("x", 60).attr("y", 30).attr("width", 700).attr("height", 600).attr("fill", `url(#${id}G)`);
}
fadeMask("veinMask", [[0, .85], [0.3, 0.8], [0.44, 0.15], [0.75, 0.08], [1, 0.18]]);
fadeMask("speckMask", [[0, .4], [0.36, .45], [0.48, .04], [0.7, .08], [0.95, .2], [1, .1]]);

const rasterClip = map.append("g").attr("clip-path", "url(#foot)");
const raster = rasterClip.append("g").attr("filter", "url(#warp)");
raster.append("rect").attr("x", 0).attr("y", 0).attr("width", 800).attr("height", 700).attr("fill", elevGrey(700));
raster.append("image").attr("href", big.toDataURL()).attr("x", gx0).attr("y", gy0)
  .attr("width", gx1 - gx0).attr("height", gy1 - gy0).attr("preserveAspectRatio", "none");
raster.selectAll(".ridge").data(ridges).enter().append("path")
  .attr("d", geoLine).attr("fill", "none").attr("stroke", "#f8f8f8").attr("stroke-width", 6).attr("stroke-opacity", 0.85)
  .attr("stroke-linecap", "round");
raster.selectAll(".valley").data(valleys).enter().append("path")
  .attr("d", geoLine).attr("fill", "none").attr("stroke", "#2b2d2e").attr("stroke-width", 2).attr("stroke-opacity", 0.6);
rasterClip.append("g").attr("mask", "url(#speckMask)")
  .append("rect").attr("x", 60).attr("y", 30).attr("width", 700).attr("height", 600).attr("filter", "url(#speck)").attr("opacity", .5);
rasterClip.append("g").attr("mask", "url(#veinMask)")
  .append("rect").attr("x", 60).attr("y", 30).attr("width", 700).attr("height", 600).attr("filter", "url(#veins)").attr("opacity", .8);

// river
map.append("path").attr("d", geoLine(river)).attr("fill", "none").attr("stroke", "#1fc4b4").attr("stroke-width", 2);

// centroids
map.selectAll(".centroid").data(centroids).enter().append("circle")
  .attr("cx", d => lonX(d[0])).attr("cy", d => latY(d[1])).attr("r", d => mapR(d[2]))
  .attr("fill", d => mapColour(d[3])).attr("fill-opacity", 0.66)
  .attr("stroke", d => d3.color(mapColour(d[3])).darker(1.3)).attr("stroke-opacity", 0.78).attr("stroke-width", 1.3);

// grey buffers with their centres
map.selectAll(".buffer").data([bigBuffer, smallBuffer]).enter().append("path")
  .attr("d", d => geoLine(d) + "Z").attr("fill", "#dcdcdc").attr("fill-opacity", 0.72).attr("stroke", "#8f8f8f").attr("stroke-width", .6);
map.selectAll(".bufferCentre").data(bufferCentres).enter().append("circle")
  .attr("cx", d => lonX(d[0])).attr("cy", d => latY(d[1])).attr("r", 1.7).attr("fill", "#000").attr("stroke", "#fff").attr("stroke-width", .6);

// scale bar
const barLons = [-3.01, -2.42, -1.83], barLats = [40.238, 40.16], barText = ["0", "50", "100km"];
map.append("rect").attr("x", lonX(barLons[0])).attr("y", latY(barLats[0])).attr("width", lonX(barLons[1]) - lonX(barLons[0]))
  .attr("height", latY(barLats[1]) - latY(barLats[0])).attr("fill", "#a7a9ab").attr("stroke", "#000").attr("stroke-width", 1.6);
map.append("rect").attr("x", lonX(barLons[1])).attr("y", latY(barLats[0])).attr("width", lonX(barLons[2]) - lonX(barLons[1]))
  .attr("height", latY(barLats[1]) - latY(barLats[0])).attr("fill", "#fff").attr("stroke", "#000").attr("stroke-width", 1.6);
map.selectAll(".barText").data(barText).enter().append("text")
  .attr("x", (d, i) => lonX(barLons[i])).attr("y", 616).attr("text-anchor", "middle").attr("font-size", 9).attr("fill", "#222").text(d => d);

// panel frame and map axes
map.append("rect").attr("x", panel.x).attr("y", panel.y).attr("width", panel.w).attr("height", panel.h)
  .attr("fill", "none").attr("stroke", "#555").attr("stroke-width", 1.1);
function tidy(g, size) {
  g.select(".domain").remove();
  g.selectAll(".tick line").attr("stroke", "#333");
  g.selectAll(".tick text").attr("font-size", size).attr("font-family", "Liberation Sans");
}
svg.append("g").attr("transform", `translate(0,${panel.y + panel.h})`)
  .call(d3.axisBottom(lonX).tickValues([-6, -4, -2]).tickFormat(plain).tickSize(3).tickPadding(7))
  .call(tidy, 16);
svg.append("g").attr("transform", `translate(${panel.x},0)`)
  .call(d3.axisLeft(latY).tickValues([40, 41, 42, 43]).tickFormat(plain).tickSize(3).tickPadding(5))
  .call(tidy, 16);
svg.append("text").attr("class", "axis-title").attr("x", 396).attr("y", 695).attr("text-anchor", "middle").attr("font-size", 19.5).text("Longitude");
svg.append("text").attr("class", "axis-title").attr("transform", "translate(28,330) rotate(-90)").attr("text-anchor", "middle").attr("font-size", 20).text("Latitude");

// ---- scatter panel ----
const dayX = d3.scaleLinear().domain([-27, 2213]).range([790.3, 1120.7]);
const rY = d3.scaleLinear().domain([-3.397, 3.28]).range([393.3, 8]);
function flatten(cols, period) {
  const out = [];
  cols.forEach(c => c[1].forEach(r => out.push({ day: c[0], r: r, period: period })));
  return out;
}
const scatterPts = [].concat(flatten(janMar, 0), flatten(aprJun, 1), flatten(julSep, 2), flatten(octDec, 3))
  .sort((a, b) => d3.ascending(a.day, b.day));
svg.append("g").selectAll("circle").data(scatterPts).enter().append("circle")
  .attr("cx", d => dayX(d.day)).attr("cy", d => rY(d.r)).attr("r", 4.1)
  .attr("fill", d => periodColours[d.period]).attr("fill-opacity", 0.92)
  .attr("stroke", "#1c1c1c").attr("stroke-width", 0.8);
svg.append("line").attr("x1", 790.3).attr("x2", 1120.7).attr("y1", rY(0)).attr("y2", rY(0))
  .attr("stroke", "#111").attr("stroke-width", 1.1).attr("stroke-dasharray", "4 4");

function axisStyle(g, size) {
  g.select(".domain").attr("stroke", "#444").attr("stroke-width", 1.5);
  g.selectAll(".tick line").attr("stroke", "#444");
  g.selectAll(".tick text").attr("font-size", size).attr("font-family", "Liberation Sans");
}
svg.append("g").attr("transform", "translate(0,393.3)")
  .call(d3.axisBottom(dayX).tickValues([0, 500, 1000, 1500, 2000]).tickFormat(plain).tickSizeOuter(0).tickSize(2.5).tickPadding(5))
  .call(axisStyle, 14);
svg.append("g").attr("transform", "translate(790.3,0)")
  .call(d3.axisLeft(rY).tickValues([-2, 0, 2]).tickFormat(plain).tickSizeOuter(0).tickSize(2.5).tickPadding(3))
  .call(axisStyle, 15);
svg.append("text").attr("class", "axis-title").attr("x", 955).attr("y", 432).attr("text-anchor", "middle").attr("font-size", 18.5).text("Centroid mean day");
const rTitle = svg.append("text").attr("class", "axis-title").attr("transform", "translate(751,204) rotate(-90)").attr("font-size", 19);
rTitle.append("tspan").text("r");
rTitle.append("tspan").attr("font-size", 12.5).attr("dy", 4).text("ti");

// ---- histogram panel ----
const transX = d3.scaleLinear().domain([-7.49, 118.1]).range([790.3, 1120.7]);
const countY = d3.scaleLinear().domain([-43, 878]).range([645.7, 453]);
svg.append("g").selectAll("rect").data(binCentres).enter().append("rect")
  .attr("x", d => transX(d - 2.3)).attr("width", transX(4.6) - transX(0))
  .attr("y", (d, i) => countY(binCounts[i])).attr("height", (d, i) => countY(0) - countY(binCounts[i]))
  .attr("fill", "#c9c9c9");
svg.append("path").datum(densityX.map((x, i) => [x, densityY[i]]))
  .attr("d", d3.line().x(d => transX(d[0])).y(d => countY(d[1])).curve(d3.curveMonotoneX))
  .attr("fill", "none").attr("stroke", "#222").attr("stroke-width", 1.3);
svg.append("line").attr("x1", transX(meanTransects)).attr("x2", transX(meanTransects)).attr("y1", 453).attr("y2", 645.7)
  .attr("stroke", "#111").attr("stroke-width", 1.1).attr("stroke-dasharray", "4 3");
svg.append("g").attr("transform", "translate(0,645.7)")
  .call(d3.axisBottom(transX).tickValues([0, 30, 60, 90]).tickFormat(plain).tickSizeOuter(0).tickSize(2.5).tickPadding(6))
  .call(axisStyle, 14);
svg.append("g").attr("transform", "translate(790.3,0)")
  .call(d3.axisLeft(countY).tickValues([0, 200, 400, 600, 800]).tickFormat(plain).tickSizeOuter(0).tickSize(2.5).tickPadding(4))
  .call(axisStyle, 13.5);
svg.append("text").attr("class", "axis-title").attr("x", 955).attr("y", 685).attr("text-anchor", "middle").attr("font-size", 18.5).text("Number of transects per centroid");
svg.append("text").attr("class", "axis-title").attr("transform", "translate(757,548) rotate(-90)").attr("text-anchor", "middle").attr("font-size", 18.5).text("Number of transects");

// ---- legends ----
const legend = svg.append("g");
legend.append("text").attr("class", "legend-title").attr("x", 1142).attr("y", 50).text("Temporal period");
const periodY = d3.scalePoint().domain(periodLabels).range([73, 139]);
legend.selectAll(".pdot").data(periodLabels).enter().append("circle")
  .attr("cx", 1152).attr("cy", d => periodY(d)).attr("r", 3.3)
  .attr("fill", (d, i) => periodColours[i]).attr("stroke", "#333").attr("stroke-width", .7);
legend.selectAll(".plabel").data(periodLabels).enter().append("text").attr("class", "legend-label")
  .attr("x", 1172).attr("y", d => periodY(d) + 4.5).text(d => d);

const rTitle2 = legend.append("text").attr("class", "legend-title").attr("x", 1142).attr("y", 190);
rTitle2.append("tspan").text("r");
rTitle2.append("tspan").attr("font-size", 12.5).attr("dy", 4).text("ti");
const rBarY = d3.scaleLinear().domain([-3, 2]).range([313, 223]);
legend.selectAll(".rslice").data(d3.range(-3.05, 3.05, 0.05)).enter().append("rect")
  .attr("x", 1142).attr("width", 21).attr("y", d => rBarY(d + 0.05) - 0.3).attr("height", rBarY(0) - rBarY(0.05) + 0.6)
  .attr("fill", d => rColour(d));
legend.selectAll(".rtick").data(rTicks).enter().append("path")
  .attr("d", d => `M1142,${rBarY(d)}h4M1159,${rBarY(d)}h4`).attr("stroke", "#fff");
legend.selectAll(".rlabel").data(rTicks).enter().append("text").attr("class", "legend-label")
  .attr("x", 1172).attr("y", d => rBarY(d) + 4.5).text(d => d);

legend.append("text").attr("class", "legend-title").attr("x", 1142).attr("y", 358).text("Number of transects");
const sizeY = d3.scalePoint().domain(sizeTicks).range([380, 447]);
legend.selectAll(".sdot").data(sizeTicks).enter().append("circle")
  .attr("cx", 1152).attr("cy", d => sizeY(d)).attr("r", d => sizeR(d))
  .attr("fill", "#fff").attr("stroke", "#aaa").attr("stroke-width", 1);
legend.selectAll(".slabel").data(sizeTicks).enter().append("text").attr("class", "legend-label")
  .attr("x", 1172).attr("y", d => sizeY(d) + 4.5).text(d => d);

legend.append("text").attr("class", "legend-title").attr("x", 1142).attr("y", 503).text("Elevation (m)");
const elevBarY = d3.scaleLinear().domain([0, 2500]).range([621, 516]);
legend.selectAll(".eslice").data(d3.range(-20, 2570, 20)).enter().append("rect")
  .attr("x", 1142).attr("width", 21).attr("y", d => elevBarY(d + 20) - 0.3).attr("height", elevBarY(0) - elevBarY(20) + 0.6)
  .attr("fill", d => elevGrey(d));
legend.selectAll(".etick").data(elevTicks).enter().append("path")
  .attr("d", d => `M1142,${elevBarY(d)}h4M1159,${elevBarY(d)}h4`).attr("stroke", "#fff");
legend.selectAll(".elabel").data(elevTicks).enter().append("text").attr("class", "legend-label")
  .attr("x", 1172).attr("y", d => elevBarY(d) + 4.5).text(d => d);
</script>
</body>
</html>
